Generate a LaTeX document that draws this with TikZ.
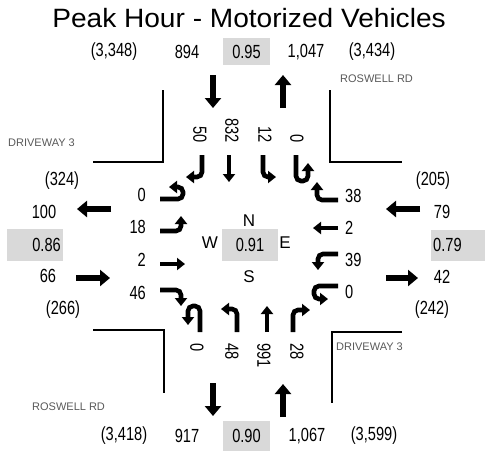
\documentclass[tikz,border=0pt]{standalone}
\usepackage{fontspec}
\setmainfont{Liberation Sans}
\newfontfamily\volfont[FakeStretch=0.77]{Liberation Sans}
\newfontfamily\titlefont[FakeStretch=1.06]{Liberation Sans}
\usetikzlibrary{arrows.meta}
\definecolor{Road}{HTML}{595959}
\definecolor{Peak}{HTML}{D9D9D9}
\tikzset{
  vol/.style={inner sep=0pt,font=\volfont\fontsize{19}{19}\selectfont},
  dir/.style={inner sep=0pt,font=\fontsize{17}{17}\selectfont},
  roadname/.style={inner sep=0pt,anchor=west,text=Road,font=\fontsize{11}{11}\selectfont},
  curb/.style={line width=1.6pt},
  turn/.style={line width=4.6pt,rounded corners=5pt,-{Triangle[width=12pt,length=8pt]}},
  leg/.style={line width=6.5pt,-{Triangle[width=16pt,length=10pt]}}
}
\begin{document}
\begin{tikzpicture}[x=1pt,y=-1pt]
\useasboundingbox (0,0) rectangle (485,451);
\node[inner sep=0pt,font=\titlefont\fontsize{26.5}{26.5}\selectfont] (title) at (249,18.5) {Peak Hour - Motorized Vehicles};
% curbs
\draw[curb] (93,162) -- (163,162) -- (163,90);
\draw[curb] (330,90) -- (330,162) -- (402,162);
\draw[curb] (93,330) -- (164,330) -- (164,393);
\draw[curb] (402,332) -- (332,332) -- (332,403);
\node[roadname] (rdne) at (340,79) {ROSWELL RD};
\node[roadname] (rdsw) at (32,407) {ROSWELL RD};
\node[roadname] (dwnw) at (8,143) {DRIVEWAY 3};
\node[roadname] (dwse) at (336,347) {DRIVEWAY 3};
% peak hour factors
\fill[Peak] (223,38) rectangle (270,65);
\fill[Peak] (223,421) rectangle (270,451);
\fill[Peak] (7,229) rectangle (63,261);
\fill[Peak] (431,230) rectangle (485,261);
\fill[Peak] (222,229) rectangle (278,261);
\node[vol] (phfn) at (246.5,52) {0.95};
\node[vol] (phfs) at (246.5,436) {0.90};
\node[vol,anchor=east] (phfw) at (61,245) {0.86};
\node[vol,anchor=west] (phfe) at (433,245) {0.79};
\node[vol] (phfi) at (250,245) {0.91};
\node[dir] (dn) at (249,221) {N};
\node[dir] (ds) at (249,277) {S};
\node[dir] (dw) at (210,243) {W};
\node[dir] (de) at (285,243) {E};
% leg totals
\foreach \x/\s [count=\i] in {114/(3{,}348),187/894,306/{1,047},372/(3{,}434)}
  \node[vol] (topv\i) at (\x,52) {\s};
\foreach \x/\s [count=\i] in {124/(3{,}418),187/917,307/{1,067},374/(3{,}599)}
  \node[vol] (botv\i) at (\x,436) {\s};
\foreach \x/\y/\s [count=\i] in {62/181/(324),44/212/100,48/276/66,63/310/(266)}
  \node[vol] (lftv\i) at (\x,\y) {\s};
\foreach \x/\y/\s [count=\i] in {433/181/(205),442/212/79,442/277/42,432/310/(242)}
  \node[vol] (rgtv\i) at (\x,\y) {\s};
% movement volumes
\foreach \x/\s [count=\i] in {200/50,232/832,265/12,297/0}
  \node[vol,rotate=-90,anchor=east] (nbv\i) at (\x,143) {\s};
\foreach \x/\s [count=\i] in {197/0,232/48,264/991,297/28}
  \node[vol,rotate=-90,anchor=west] (sbv\i) at (\x,343) {\s};
\foreach \y/\s [count=\i] in {195/0,227/18,260/2,293/46}
  \node[vol,anchor=east] (wbv\i) at (146,\y) {\s};
\foreach \y/\s [count=\i] in {196/38,228/2,260/39,292/0}
  \node[vol,anchor=west] (ebv\i) at (345,\y) {\s};
% leg arrows
\draw[leg] (213,75) -- (213,108);
\draw[leg] (283,108) -- (283,75);
\draw[leg] (213,383) -- (213,416);
\draw[leg] (283,417) -- (283,384);
\draw[leg] (111,209) -- (77,209);
\draw[leg] (76,278) -- (110,278);
\draw[leg] (420,209) -- (386,209);
\draw[leg] (386,278) -- (418,278);
% north approach
\draw[turn] (202,155) -- (202,177) -- (186,177);
\draw[turn] (229,155) -- (229,182);
\draw[turn] (263,155) -- (263,177) -- (276,177);
\draw[turn] (296,155) -- (296,181) -- (308,181) -- (308,163);
% east approach
\draw[turn] (338,200) -- (317,200) -- (317,182);
\draw[turn] (338,228) -- (313,228);
\draw[turn] (338,254) -- (318,254) -- (318,270);
\draw[turn] (338,286) -- (314,286) -- (314,299) -- (328,299);
% south approach
\draw[turn] (200,332) -- (200,306) -- (188,306) -- (188,325);
\draw[turn] (237,332) -- (237,309) -- (221,309);
\draw[turn] (267,332) -- (267,306);
\draw[turn] (293,332) -- (293,310) -- (310,310);
% west approach
\draw[turn] (160,199) -- (183,199) -- (183,187) -- (169,187);
\draw[turn] (160,231) -- (181,231) -- (181,216);
\draw[turn] (160,264) -- (185,264);
\draw[turn] (160,290) -- (181,290) -- (181,306);
\end{tikzpicture}
\end{document}
